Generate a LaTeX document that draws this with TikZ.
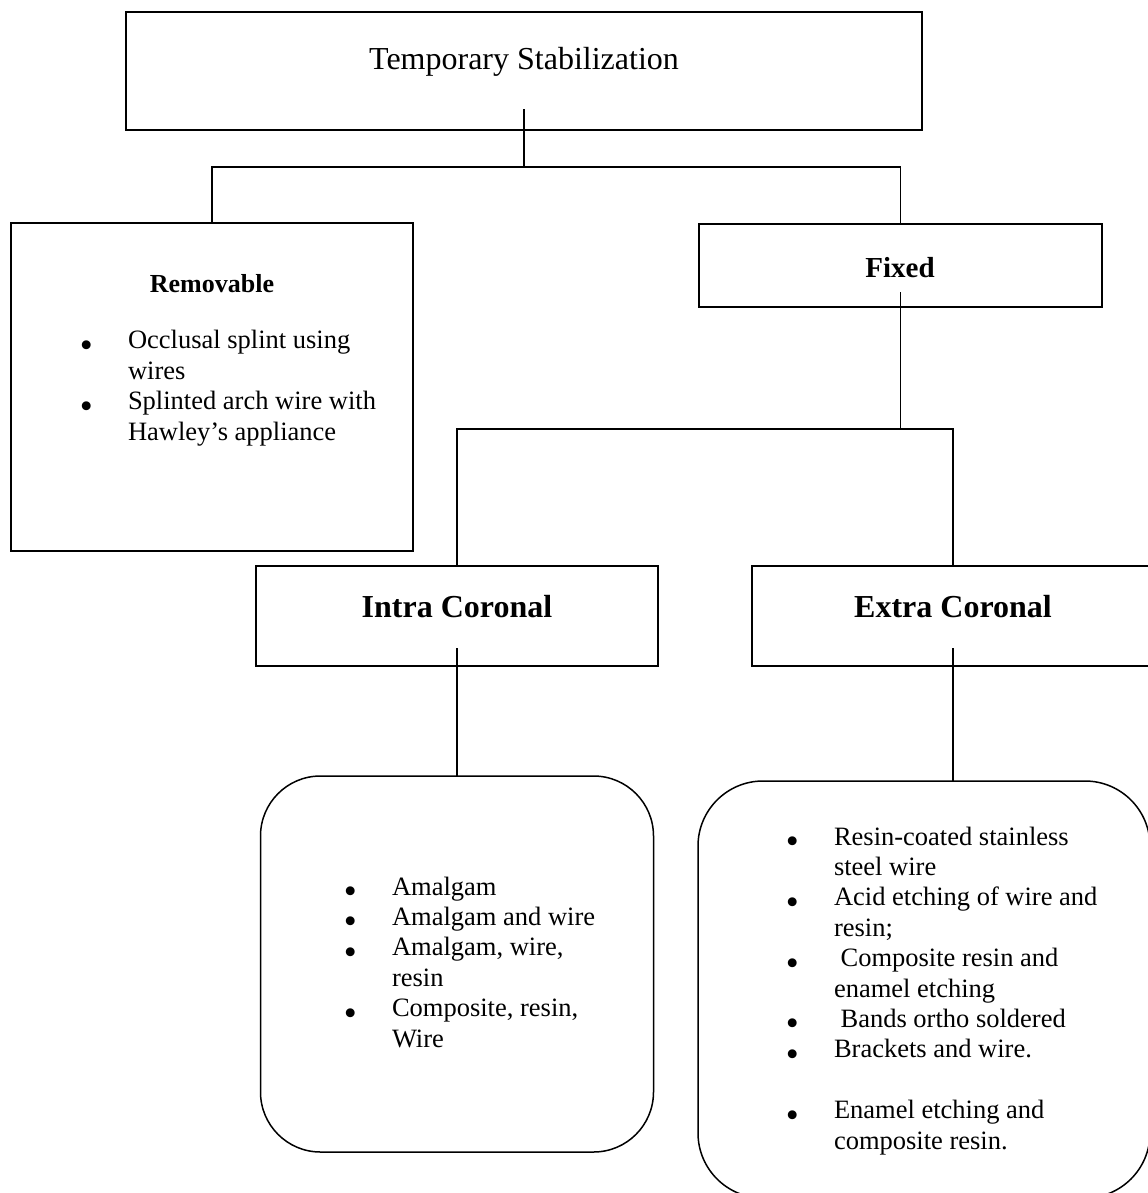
\documentclass[tikz,border=0pt]{standalone}
\usepackage{fontspec}
\setmainfont{Liberation Serif}
\usepackage{tikz}
\usetikzlibrary{positioning}
\newcommand{\itembul}{\llap{\smash{\raisebox{-4.2pt}{\fontsize{18.5pt}{18.5pt}\selectfont\textbullet}}\hspace{17.6pt}}}
\newcommand{\itemgap}{\hspace*{3.3pt}}

\begin{document}
\begin{tikzpicture}[
x=0.5pt,
y=-0.5pt,
every node/.style={text=black,outer sep=0pt,inner sep=0pt},
framebox/.style={draw=black,fill=white,line width=1pt},
headbox/.style={framebox,minimum width=398pt,minimum height=59pt},
sidebox/.style={framebox,minimum width=201pt,minimum height=164pt},
fixedbox/.style={framebox,minimum width=201.5pt,minimum height=41.5pt},
corebox/.style={framebox,minimum width=201pt,minimum height=50pt},
listbox/.style={draw=black,fill=white,line width=0.75pt},
headtext/.style={font=\fontsize{16pt}{18pt}\selectfont,anchor=base},
boldtext/.style={font=\fontsize{16pt}{18pt}\selectfont\bfseries,anchor=base},
listtext/.style={font=\fontsize{13.25pt}{15.2pt}\selectfont,align=left,anchor=base west},
link/.style={draw=black,line width=0.7pt,line cap=rect}
]

\path[use as bounding box] (0,0) rectangle (1147,1193);

\node[headbox] (stab) at (524,71) {};
\node[sidebox] (remv) at (212,387) {};
\node[fixedbox] (fixd) at (900.5,265.5) {};
\node[corebox] (intra) at (457,616) {};
\node[corebox] (extra) at (953,616) {};
\node[listbox,minimum width=196.5pt,minimum height=188pt,rounded corners=30pt] (intralist) at (457,964) {};
\node[listbox,minimum width=226pt,minimum height=208.5pt,rounded corners=32.5pt] (extralist) at (924,989.5) {};

\node[headtext] (stabtext) at (524,70) {Temporary Stabilization};
\node[boldtext,font=\fontsize{13pt}{15pt}\selectfont\bfseries] (remvtitle) at (212,292) {Removable};
\node[boldtext,font=\fontsize{14.5pt}{16pt}\selectfont\bfseries] (fixdtitle) at (900,277) {Fixed};
\node[boldtext] (intratitle) at (457,617) {Intra Coronal};
\node[boldtext] (extratitle) at (953,617) {Extra Coronal};

\node[listtext] (remvitems) at (128,440) {\itembul Occlusal splint using\\wires\\\itembul Splinted arch wire with\\Hawley's appliance};
\node[listtext] (intraitems) at (392,1047) {\itembul Amalgam\\\itembul Amalgam and wire\\\itembul Amalgam, wire,\\resin\\\itembul Composite, resin,\\Wire};
\node[listtext] (extraitems) at (834,1149) {\itembul Resin-coated stainless\\steel wire\\\itembul Acid etching of wire and\\resin;\\\itembul\itemgap Composite resin and\\enamel etching\\\itembul\itemgap Bands ortho soldered\\\itembul Brackets and wire.\\[15.2pt]\itembul Enamel etching and\\composite resin.};

\coordinate (stabStem) at (524,110);
\coordinate (stabSplit) at (524,167);
\coordinate (fixdStem) at (900.5,293);
\coordinate (fixdSplit) at (900.5,429);
\coordinate (intraStem) at (457,649);
\coordinate (extraStem) at (953,649);

\draw[link] (stabStem) -- (stabSplit);
\draw[link] (stabSplit) -| (remv.north);
\draw[link] (stabSplit) -| (fixd.north);

\draw[link] (fixdStem) -- (fixdSplit);
\draw[link] (fixdSplit) -| (intra.north);
\draw[link] (fixdSplit) -| (extra.north);

\draw[link] (intraStem) -- (intralist.north);
\draw[link] (extraStem) -- (extraStem |- extralist.north);

\end{tikzpicture}
\end{document}
